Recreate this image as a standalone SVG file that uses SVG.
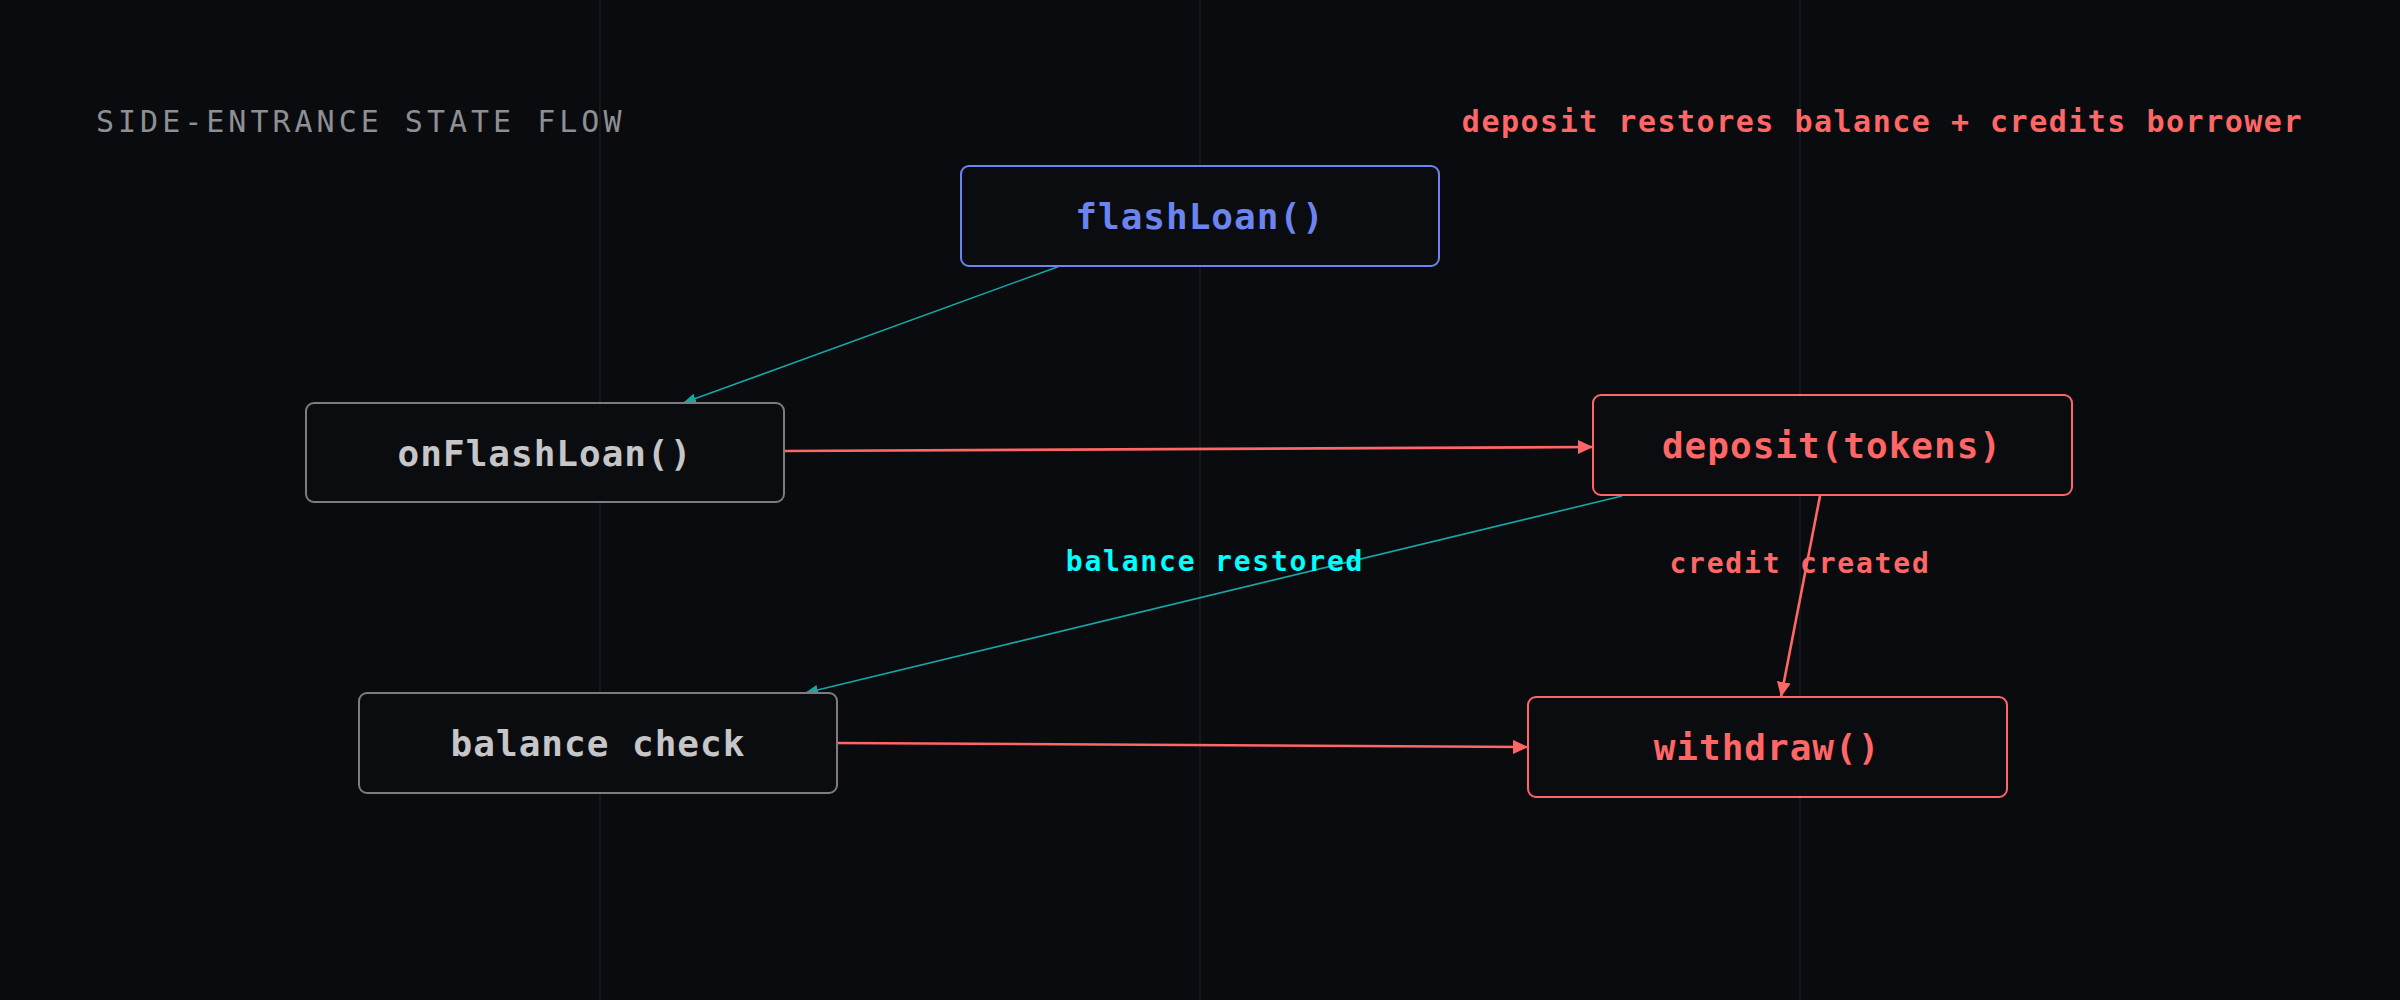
<svg xmlns="http://www.w3.org/2000/svg" width="2400" height="1000" viewBox="0 0 2400 1000">
<defs>
<style>
.bg{fill:#0a0b0f}
.grid{stroke:#16171c;stroke-width:2}
.box{fill:#0b0c10;stroke-width:2}
.lbl{font-family:"DejaVu Sans Mono","Liberation Mono",monospace;font-weight:bold;font-size:36px;letter-spacing:1px;text-anchor:middle}
.edge{font-family:"DejaVu Sans Mono","Liberation Mono",monospace;font-weight:bold;font-size:28px;letter-spacing:1.8px;text-anchor:middle}
.teal{stroke:#17a6a3;stroke-width:1.6;fill:none}
.red{stroke:#ff6666;stroke-width:2.6;fill:none}
</style>
<marker id="aTeal" markerUnits="userSpaceOnUse" markerWidth="14" markerHeight="12" refX="13" refY="5" orient="auto">
<path d="M0,0 L13,5 L0,10 Z" fill="#17a6a3"/>
</marker>
<marker id="aRed" markerUnits="userSpaceOnUse" markerWidth="16" markerHeight="14" refX="15" refY="7" orient="auto">
<path d="M0,0 L15,7 L0,14 Z" fill="#ff6666"/>
</marker>
</defs>
<rect class="bg" x="0" y="0" width="2400" height="1000"/>
<g id="grid">
<line class="grid" x1="600" y1="0" x2="600" y2="1000"/>
<line class="grid" x1="1200" y1="0" x2="1200" y2="1000"/>
<line class="grid" x1="1800" y1="0" x2="1800" y2="1000"/>
</g>
<text x="96" y="132" font-family="DejaVu Sans Mono, Liberation Mono, monospace" font-size="30" letter-spacing="4" fill="#8e8f93">SIDE-ENTRANCE STATE FLOW</text>
<text x="2303" y="132" text-anchor="end" font-family="DejaVu Sans Mono, Liberation Mono, monospace" font-weight="bold" font-size="30" letter-spacing="1.5" fill="#ff6666">deposit restores balance + credits borrower</text>
<g id="connectors">
<line class="teal" x1="1060" y1="266" x2="683" y2="403" marker-end="url(#aTeal)"/>
<line class="red" x1="784" y1="451" x2="1593" y2="447" marker-end="url(#aRed)"/>
<line class="teal" x1="1622" y1="496" x2="805" y2="693" marker-end="url(#aTeal)"/>
<line class="red" x1="1820" y1="496" x2="1781" y2="697" marker-end="url(#aRed)"/>
<line class="red" x1="837" y1="743" x2="1528" y2="747" marker-end="url(#aRed)"/>
<text class="edge" x="1215" y="571" fill="#00ffff">balance restored</text>
<text class="edge" x="1800" y="573" fill="#ff6666">credit created</text>
</g>
<g id="flashLoan">
<rect class="box" x="961" y="166" width="478" height="100" rx="8" stroke="#6b84f0"/>
<text class="lbl" x="1200" y="229" fill="#6b84f0">flashLoan()</text>
</g>
<g id="onFlashLoan">
<rect class="box" x="306" y="403" width="478" height="99" rx="8" stroke="#7d7d80"/>
<text class="lbl" x="545" y="466" fill="#c6c6c8">onFlashLoan()</text>
</g>
<g id="deposit">
<rect class="box" x="1593" y="395" width="479" height="100" rx="8" stroke="#ff6666" stroke-width="2.6"/>
<text class="lbl" x="1832" y="458" fill="#ff6666">deposit(tokens)</text>
</g>
<g id="balanceCheck">
<rect class="box" x="359" y="693" width="478" height="100" rx="8" stroke="#7d7d80"/>
<text class="lbl" x="598" y="756" fill="#c6c6c8">balance check</text>
</g>
<g id="withdraw">
<rect class="box" x="1528" y="697" width="479" height="100" rx="8" stroke="#ff6666" stroke-width="2.6"/>
<text class="lbl" x="1767" y="760" fill="#ff6666">withdraw()</text>
</g>
</svg>
